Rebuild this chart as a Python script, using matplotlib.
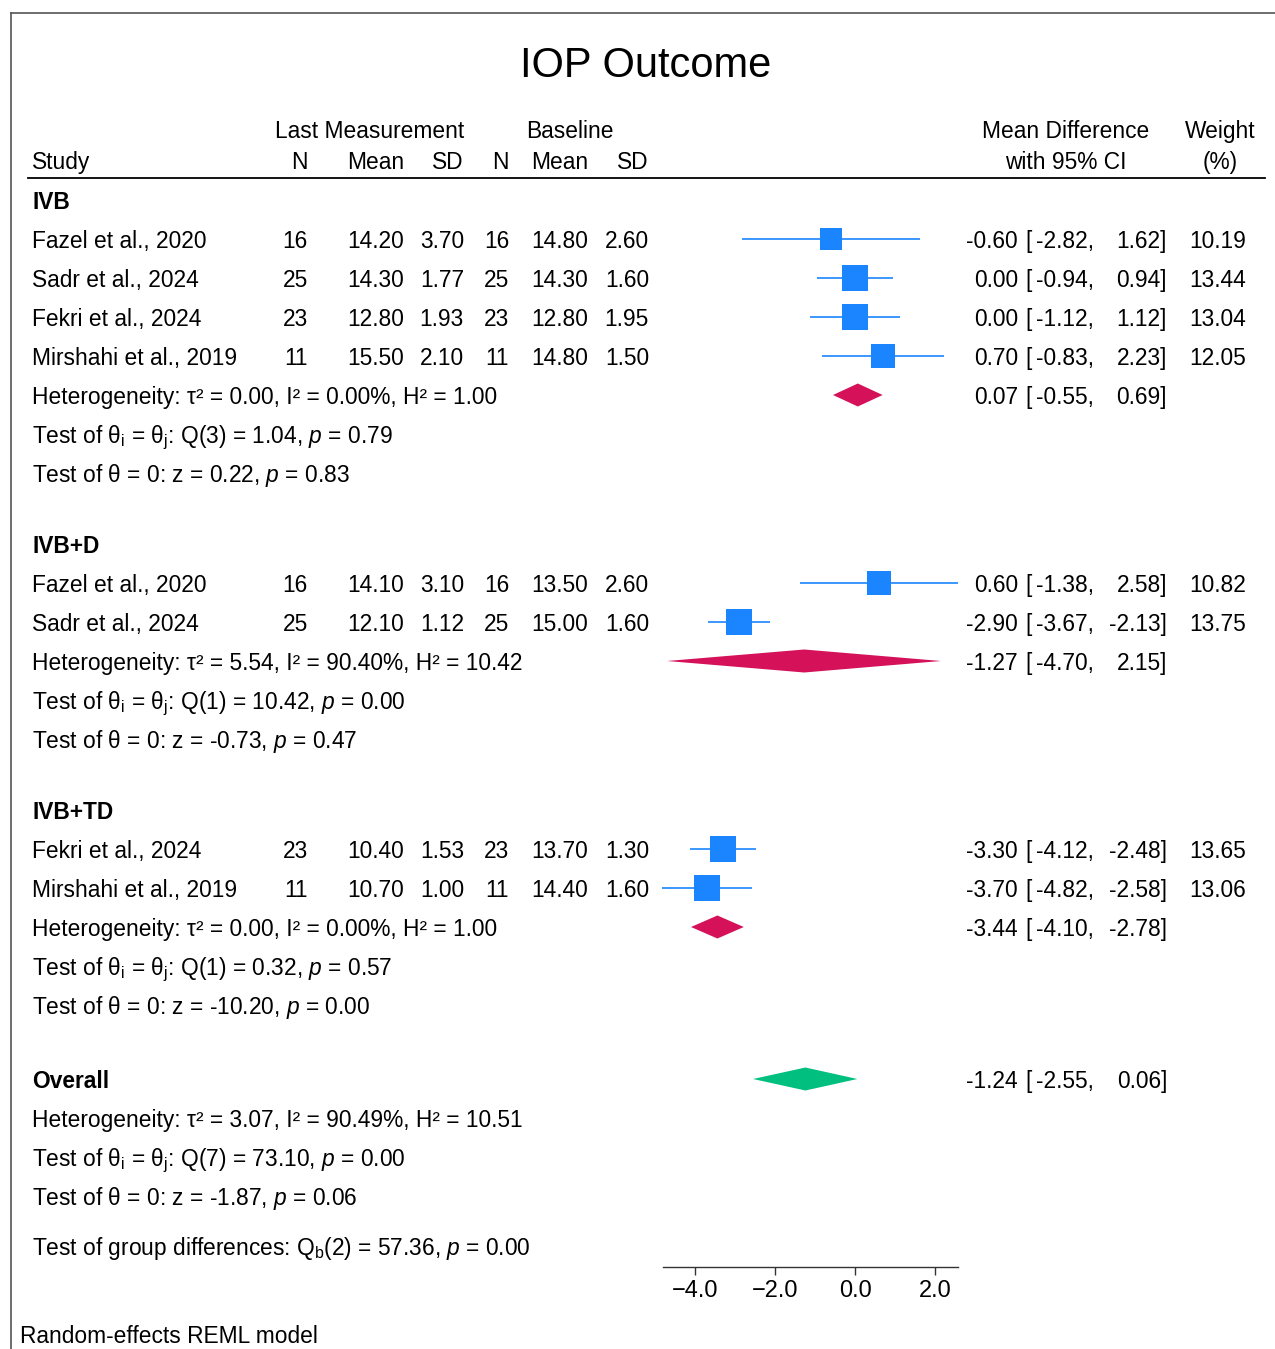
import matplotlib.pyplot as plt
import numpy as np
from matplotlib.lines import Line2D
from matplotlib.patches import Polygon
from matplotlib.ticker import FuncFormatter
import matplotlib.transforms as mtransforms

plt.rcParams['font.family'] = ['Liberation Sans', 'DejaVu Sans']
plt.rcParams['mathtext.fontset'] = 'custom'
plt.rcParams['mathtext.rm'] = 'Liberation Sans'
plt.rcParams['mathtext.it'] = 'Liberation Sans:italic'
plt.rcParams['mathtext.bf'] = 'Liberation Sans:bold'

# study level data
groups = ['IVB', 'IVB+D', 'IVB+TD']
study = ['Fazel et al., 2020', 'Sadr et al., 2024', 'Fekri et al., 2024', 'Mirshahi et al., 2019',
         'Fazel et al., 2020', 'Sadr et al., 2024',
         'Fekri et al., 2024', 'Mirshahi et al., 2019']
group_of = [0, 0, 0, 0, 1, 1, 2, 2]
n_last = [16, 25, 23, 11, 16, 25, 23, 11]
mean_last = [14.20, 14.30, 12.80, 15.50, 14.10, 12.10, 10.40, 10.70]
sd_last = [3.70, 1.77, 1.93, 2.10, 3.10, 1.12, 1.53, 1.00]
n_base = [16, 25, 23, 11, 16, 25, 23, 11]
mean_base = [14.80, 14.30, 12.80, 14.80, 13.50, 15.00, 13.70, 14.40]
sd_base = [2.60, 1.60, 1.95, 1.50, 2.60, 1.60, 1.30, 1.60]
md = [-0.60, 0.00, 0.00, 0.70, 0.60, -2.90, -3.30, -3.70]
ci_lo = [-2.82, -0.94, -1.12, -0.83, -1.38, -3.67, -4.12, -4.82]
ci_hi = [1.62, 0.94, 1.12, 2.23, 2.58, -2.13, -2.48, -2.58]
weight = [10.19, 13.44, 13.04, 12.05, 10.82, 13.75, 13.65, 13.06]

# subgroup summaries
pooled_md = [0.07, -1.27, -3.44]
pooled_lo = [-0.55, -4.70, -4.10]
pooled_hi = [0.69, 2.15, -2.78]
tau2 = [0.00, 5.54, 0.00]
i2 = [0.00, 90.40, 0.00]
h2 = [1.00, 10.42, 1.00]
q_df = [3, 1, 1]
q_val = [1.04, 10.42, 0.32]
q_p = [0.79, 0.00, 0.57]
z_val = [0.22, -0.73, -10.20]
z_p = [0.83, 0.47, 0.00]

# overall
overall_md, overall_lo, overall_hi = -1.24, -2.55, 0.06
overall_tau2, overall_i2, overall_h2 = 3.07, 90.49, 10.51
overall_q_df, overall_q, overall_q_p = 7, 73.10, 0.00
overall_z, overall_z_p = -1.87, 0.06
qb_df, qb, qb_p = 2, 57.36, 0.00

W, H = 1275, 1349
fig = plt.figure(figsize=(W / 100, H / 100), dpi=100)
ax = fig.add_axes([663 / W, 0, 295 / W, 1])
ax.set_xlim(-4.8, 2.575)
ax.set_ylim(H, 0)

blue = '#1a85ff'
red = '#d41159'
green = '#00bf7f'
fs = 16.4
tr = mtransforms.blended_transform_factory(fig.transFigure, ax.transData)


def txt(px, y, s, ha='left', **kw):
    ax.text(px / W, y + 9, s, transform=tr, ha=ha, va='baseline',
            fontsize=fs, clip_on=False, **kw)


def diamond(y, est, lo, hi, color):
    h = 11.5
    ax.add_patch(Polygon([[lo, y], [est, y - h], [hi, y], [est, y + h]],
                         closed=True, facecolor=color, edgecolor='none', clip_on=False))


def ci_text(y, est, lo, hi):
    txt(1018, y, f'{est:.2f}', ha='right')
    txt(1025, y, '[')
    txt(1094, y, f'{lo:.2f},', ha='right')
    txt(1167, y, f'{hi:.2f}]', ha='right')


def het_lines(y, t2, ii, hh, df, q, qp, z, zp, step):
    txt(32, y, f'Heterogeneity: τ² = {t2:.2f}, I² = {ii:.2f}%, H² = {hh:.2f}')
    txt(32, y + step, f'Test of θ$_\\mathregular{{i}}$ = θ$_\\mathregular{{j}}$: Q({df}) = {q:.2f}, $p$ = {qp:.2f}')
    txt(32, y + 2 * step, f'Test of θ = 0: z = {z:.2f}, $p$ = {zp:.2f}')


# title and header
fig.text(646 / W, 1 - 77 / H, 'IOP Outcome', ha='center', va='baseline', fontsize=30)
txt(370, 129, 'Last Measurement', ha='center')
txt(570, 129, 'Baseline', ha='center')
txt(1066, 129, 'Mean Difference', ha='center')
txt(1220, 129, 'Weight', ha='center')
txt(32, 160, 'Study')
col_x = [308, 404, 464, 509, 588, 649]
for cx, lab in zip(col_x, ['N', 'Mean', 'SD', 'N', 'Mean', 'SD']):
    txt(cx, 160, lab, ha='right')
txt(1066, 160, 'with 95% CI', ha='center')
txt(1220, 160, '(%)', ha='center')
fig.add_artist(Line2D([28 / W, 1265 / W], [1 - 178 / H, 1 - 178 / H], color='black', lw=1.3))

step = 39
y = 200
for g, gname in enumerate(groups):
    txt(32, y, gname, fontweight='bold')
    y += step
    for i in [k for k in range(len(study)) if group_of[k] == g]:
        txt(32, y, study[i])
        vals = [f'{n_last[i]}', f'{mean_last[i]:.2f}', f'{sd_last[i]:.2f}',
                f'{n_base[i]}', f'{mean_base[i]:.2f}', f'{sd_base[i]:.2f}']
        for cx, v in zip(col_x, vals):
            txt(cx, y, v, ha='right')
        ax.plot([ci_lo[i], ci_hi[i]], [y, y], color=blue, lw=1.2, clip_on=False,
                solid_capstyle='butt')
        side_px = 7.2 * np.sqrt(weight[i])
        ax.plot([md[i]], [y], marker='s', markersize=side_px * 0.72, color=blue,
                markeredgewidth=0, clip_on=False)
        ci_text(y, md[i], ci_lo[i], ci_hi[i])
        txt(1246, y, f'{weight[i]:.2f}', ha='right')
        y += step
    diamond(y, pooled_md[g], pooled_lo[g], pooled_hi[g], red)
    ci_text(y, pooled_md[g], pooled_lo[g], pooled_hi[g])
    het_lines(y, tau2[g], i2[g], h2[g], q_df[g], q_val[g], q_p[g], z_val[g], z_p[g], step)
    y += 2 * step + 71

# overall
y += 3
txt(32, y, 'Overall', fontweight='bold')
diamond(y, overall_md, overall_lo, overall_hi, green)
ci_text(y, overall_md, overall_lo, overall_hi)
y += step
het_lines(y, overall_tau2, overall_i2, overall_h2, overall_q_df, overall_q, overall_q_p,
          overall_z, overall_z_p, step)
y += 2 * step + 50
txt(32, y, f'Test of group differences: Q$_\\mathregular{{b}}$({qb_df}) = {qb:.2f}, $p$ = {qb_p:.2f}')
txt(20, 1334, 'Random-effects REML model')

# axis
for side in ['top', 'left', 'right']:
    ax.spines[side].set_visible(False)
ax.spines['bottom'].set_position(('data', 1267))
ax.spines['bottom'].set_color('#333333')
ax.spines['bottom'].set_linewidth(1.0)
ax.set_yticks([])
ax.set_xticks([-4, -2, 0, 2])
ax.xaxis.set_major_formatter(FuncFormatter(lambda v, p: f'{v:.1f}'.replace('-', '\u2212')))
ax.tick_params(axis='x', direction='out', length=5.5, width=1.0, color='#333333',
               labelsize=17, pad=4)
ax.patch.set_visible(False)

# frame
fig.add_artist(Line2D([11 / W, 1], [1 - 13 / H, 1 - 13 / H], color='#555555', lw=1.2))
fig.add_artist(Line2D([11 / W, 11 / W], [1 - 13 / H, 0], color='#555555', lw=1.2))

fig.savefig('out.png', dpi=100)
